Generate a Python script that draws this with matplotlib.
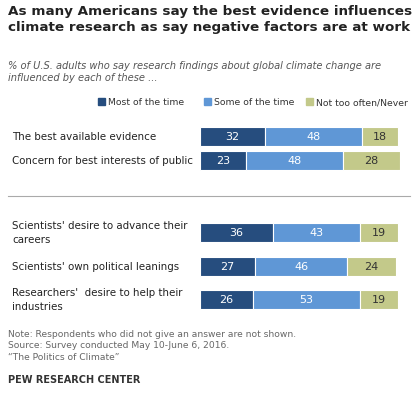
import matplotlib.pyplot as plt
import numpy as np

categories = ["The best available evidence", "Concern for best interests of public",
              "Scientists' desire to advance their\ncareers", "Scientists' own political leanings",
              "Researchers'  desire to help their\nindustries"]
most = [32, 23, 36, 27, 26]
some = [48, 48, 43, 46, 53]
never = [18, 28, 19, 24, 19]
series_names = ["Most of the time", "Some of the time", "Not too often/Never"]
colors = ["#264d7e", "#5f97d6", "#c3c98a"]
text_colors = ["white", "white", "#333333"]

W, H = 420, 402
fig = plt.figure(figsize=(W / 100, H / 100), dpi=100)

def fx(px):
    return px / W

def fy(py):
    return 1 - py / H

fig.text(fx(8), fy(5), "As many Americans say the best evidence influences\nclimate research as say negative factors are at work",
         fontsize=9.7, fontweight="bold", va="top", ha="left", color="#222222", linespacing=1.3)
fig.text(fx(8), fy(61), "% of U.S. adults who say research findings about global climate change are\ninfluenced by each of these ...",
         fontsize=7.1, style="italic", va="top", ha="left", color="#555555", linespacing=1.3)

# legend
lx = [98, 204, 306]
for x, name, c in zip(lx, series_names, colors):
    fig.patches.append(plt.Rectangle((fx(x), fy(106)), 7 / W, 7 / H, transform=fig.transFigure, color=c))
    fig.text(fx(x + 10), fy(102.5), name, fontsize=6.7, va="center", ha="left", color="#333333")

ypos = [137, 161, 233, 267, 300]
ax = fig.add_axes([fx(200), fy(315), 200 / W, 190 / H])
ax.set_xlim(0, 99)
ax.set_ylim(315, 125)
ax.axis("off")
left = np.zeros(len(categories))
for vals, c, tc in zip([most, some, never], colors, text_colors):
    vals = np.array(vals)
    ax.barh(ypos, vals, left=left, height=19, color=c, edgecolor="white", linewidth=0.8)
    for y, l, v in zip(ypos, left, vals):
        ax.text(l + v / 2, y, str(v), ha="center", va="center", fontsize=8, color=tc)
    left += vals

for y, cat in zip(ypos, categories):
    fig.text(fx(12), fy(y), cat, fontsize=7.4, va="center", ha="left", color="#222222", linespacing=1.4)

fig.add_artist(plt.Line2D([fx(8), fx(410)], [fy(197), fy(197)], color="#aaaaaa", linewidth=0.8))

fig.text(fx(8), fy(330), "Note: Respondents who did not give an answer are not shown.\nSource: Survey conducted May 10-June 6, 2016.\n\u201cThe Politics of Climate\u201d",
         fontsize=6.6, va="top", ha="left", color="#666666", linespacing=1.35)
fig.text(fx(8), fy(380), "PEW RESEARCH CENTER", fontsize=7, fontweight="bold", va="center", ha="left", color="#333333")

fig.savefig("out.png", dpi=100)
